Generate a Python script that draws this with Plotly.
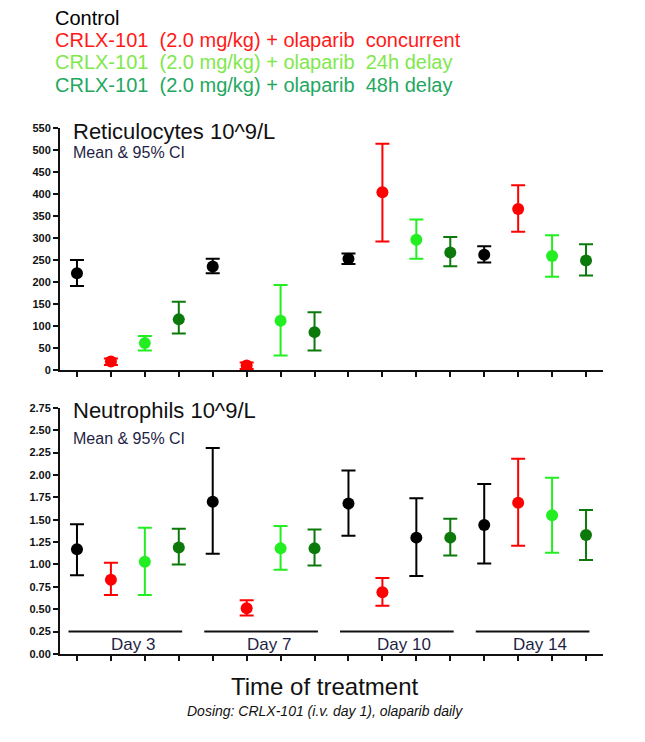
import plotly.graph_objects as go

days = ["Day 3", "Day 7", "Day 10", "Day 14"]
series_names = ["Control",
                "CRLX-101  (2.0 mg/kg) + olaparib  concurrent",
                "CRLX-101  (2.0 mg/kg) + olaparib  24h delay",
                "CRLX-101  (2.0 mg/kg) + olaparib  48h delay"]

# Reticulocytes 10^9/L : mean, upper and lower 95% CI per day
retic_control = [220, 235, 253, 262]
retic_control_hi = [250, 253, 265, 281]
retic_control_lo = [191, 220, 241, 244]
retic_conc = [19, 10, 404, 366]
retic_conc_hi = [26, 17, 514, 420]
retic_conc_lo = [11, 2, 292, 314]
retic_24h = [61, 112, 296, 259]
retic_24h_hi = [77, 193, 342, 306]
retic_24h_lo = [44, 33, 253, 212]
retic_48h = [115, 86, 267, 249]
retic_48h_hi = [155, 131, 302, 286]
retic_48h_lo = [83, 44, 236, 215]

# Neutrophils 10^9/L
neut_control = [1.17, 1.70, 1.68, 1.44]
neut_control_hi = [1.45, 2.30, 2.05, 1.90]
neut_control_lo = [0.88, 1.12, 1.32, 1.01]
neut_conc = [0.83, 0.51, 0.69, 1.69]
neut_conc_hi = [1.02, 0.60, 0.85, 2.18]
neut_conc_lo = [0.66, 0.43, 0.54, 1.21]
neut_24h = [1.03, 1.18, 1.30, 1.55]
neut_24h_hi = [1.41, 1.43, 1.74, 1.97]
neut_24h_lo = [0.66, 0.94, 0.87, 1.13]
neut_48h = [1.19, 1.18, 1.30, 1.33]
neut_48h_hi = [1.40, 1.39, 1.51, 1.61]
neut_48h_lo = [1.00, 0.99, 1.10, 1.05]

retic_ticks = [0, 50, 100, 150, 200, 250, 300, 350, 400, 450, 500, 550]
neut_ticks = [0, 0.25, 0.5, 0.75, 1.0, 1.25, 1.5, 1.75, 2.0, 2.25, 2.5, 2.75]

BLACK, RED, LIGHT, DARK = "#000000", "#ff0000", "#22ee22", "#0b7a0b"
series_colors = [BLACK, RED, LIGHT, DARK]
legend_colors = ["#000000", "#ff1a1a", "#80e84c", "#1fa85f"]
# the day-10 "24h delay" neutrophil point is drawn black in the original
neut_point_colors = [
    [BLACK] * 4,
    [RED] * 4,
    [LIGHT, LIGHT, BLACK, LIGHT],
    [DARK] * 4,
]

retic = [(retic_control, retic_control_hi, retic_control_lo),
         (retic_conc, retic_conc_hi, retic_conc_lo),
         (retic_24h, retic_24h_hi, retic_24h_lo),
         (retic_48h, retic_48h_hi, retic_48h_lo)]
neut = [(neut_control, neut_control_hi, neut_control_lo),
        (neut_conc, neut_conc_hi, neut_conc_lo),
        (neut_24h, neut_24h_hi, neut_24h_lo),
        (neut_48h, neut_48h_hi, neut_48h_lo)]

fig = go.Figure()


def add_points(data, xa, ya, point_colors):
    for s, (mean, hi, lo) in enumerate(data):
        for d in range(len(days)):
            col = point_colors[s][d]
            fig.add_trace(go.Scatter(
                x=[d * 4 + s + 1], y=[mean[d]],
                mode="markers", xaxis=xa, yaxis=ya, showlegend=False,
                name=series_names[s],
                marker=dict(symbol="circle", size=12, color=col),
                error_y=dict(type="data", symmetric=False,
                             array=[hi[d] - mean[d]], arrayminus=[mean[d] - lo[d]],
                             color=col, thickness=2, width=7),
            ))


add_points(retic, "x", "y", [[c] * 4 for c in series_colors])
add_points(neut, "x2", "y2", neut_point_colors)

tickfont = dict(family="Liberation Sans, Arial", size=11, color="#111", weight="bold")
xcommon = dict(range=[0.5, 16.5], tickvals=list(range(1, 17)), showticklabels=False,
               ticks="outside", ticklen=5, tickwidth=2, tickcolor="#111",
               showline=True, linecolor="#111", linewidth=2, showgrid=False, zeroline=False)
ycommon = dict(ticks="outside", ticklen=5, tickwidth=2, tickcolor="#111",
               showline=True, linecolor="#111", linewidth=2, showgrid=False,
               zeroline=False, tickfont=tickfont)

fig.update_layout(
    xaxis=dict(xcommon, domain=[0, 1], anchor="y"),
    yaxis=dict(ycommon, domain=[0.54, 1], range=[0, 550], tickvals=retic_ticks,
               ticktext=[str(t) for t in retic_ticks]),
    xaxis2=dict(xcommon, domain=[0, 1], anchor="y2"),
    yaxis2=dict(ycommon, domain=[0, 0.468], range=[0, 2.75], tickvals=neut_ticks,
                ticktext=["%.2f" % t for t in neut_ticks]),
    width=637, height=734,
    margin=dict(l=52, r=42, t=120, b=88),
    plot_bgcolor="white", paper_bgcolor="white",
    font=dict(family="Liberation Sans, Arial", color="#111"),
)

# group lines and day labels under the neutrophil panel
for d, day in enumerate(days):
    start = d * 4 + 1
    fig.add_shape(type="line", xref="x2", yref="y2", x0=start - 0.25, x1=start + 3.1,
                  y0=0.25, y1=0.25, line=dict(color="#111", width=2))
    fig.add_annotation(xref="x2", yref="y2", x=start + 1.65, y=0.11, text=day,
                       showarrow=False, font=dict(size=17, color="#1f1f45"))

# series key at the top
for i, (name, col) in enumerate(zip(series_names, legend_colors)):
    fig.add_annotation(xref="paper", yref="paper", x=-0.012, y=1.21 - i * 0.0425,
                       xanchor="left", yanchor="middle", showarrow=False,
                       text=name.replace("  ", "\u00a0\u00a0"),
                       font=dict(size=20, color=col))

# panel titles
for ytitle, ysub, title in [(0.994, 0.954, "Reticulocytes 10^9/L"),
                            (0.462, 0.41, "Neutrophils 10^9/L")]:
    fig.add_annotation(xref="paper", yref="paper", x=0.02, y=ytitle, xanchor="left",
                       yanchor="middle", showarrow=False, text=title,
                       font=dict(size=22, color="#111"))
    fig.add_annotation(xref="paper", yref="paper", x=0.02, y=ysub, xanchor="left",
                       yanchor="middle", showarrow=False, text="Mean & 95% CI",
                       font=dict(size=16, color="#1f1f45"))

fig.add_annotation(xref="paper", yref="paper", x=0.488, y=-0.061, showarrow=False,
                   yanchor="middle", text="Time of treatment",
                   font=dict(size=24, color="#111"))
fig.add_annotation(xref="paper", yref="paper", x=0.488, y=-0.108, showarrow=False,
                   yanchor="middle", text="<i>Dosing: CRLX-101 (i.v. day 1), olaparib daily</i>",
                   font=dict(size=14, color="#111"))

fig.write_html("out.html")
